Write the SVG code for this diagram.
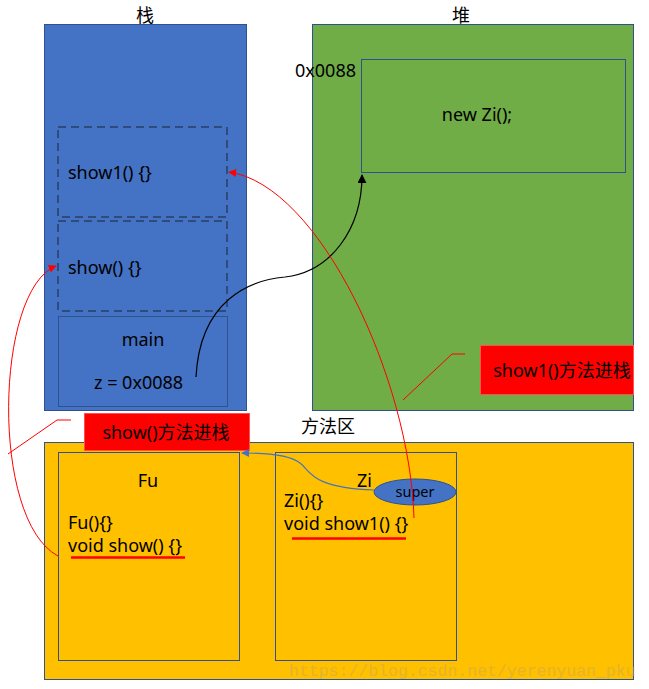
<svg xmlns="http://www.w3.org/2000/svg" width="649" height="689" viewBox="0 0 649 689">
<defs>
<style>
text{font-family:"Noto Sans","Noto Sans CJK SC",sans-serif;font-size:18px;fill:#000}
.box{stroke:#2F528F;stroke-width:1}
.dash{fill:none;stroke:#2F4B7C;stroke-width:2;stroke-dasharray:8,5}
.red{fill:none;stroke:#FF0000;stroke-width:1}
.lbl{fill:#FF0000;stroke:#FF5050;stroke-width:1}
.wm{font-family:"Liberation Mono",monospace;font-size:16.5px;fill:#C9A85A;opacity:0.5}
</style>
<marker id="ar" viewBox="0 0 10 10" refX="9" refY="5" markerWidth="8" markerHeight="8" markerUnits="userSpaceOnUse" orient="auto"><path d="M0,0L10,5L0,10z" fill="#FF0000"/></marker>
<marker id="ab" viewBox="0 0 10 10" refX="9" refY="5" markerWidth="9" markerHeight="9" markerUnits="userSpaceOnUse" orient="auto"><path d="M0,0L10,5L0,10z" fill="#000"/></marker>
<marker id="au" viewBox="0 0 10 10" refX="9" refY="5" markerWidth="8" markerHeight="8" markerUnits="userSpaceOnUse" orient="auto"><path d="M0,0L10,5L0,10z" fill="#4472C4"/></marker>
</defs>
<rect width="649" height="689" fill="#fff"/>

<g id="stack">
<text x="145" y="22" text-anchor="middle">栈</text>
<rect class="box" x="44.5" y="24.5" width="202" height="386" fill="#4472C4"/>
</g>
<g id="frame-show1">
<rect class="dash" x="58" y="127" width="169" height="90"/>
<text x="68" y="179">show1() {}</text>
</g>
<g id="frame-show">
<rect class="dash" x="58" y="221" width="169" height="90"/>
<text x="68" y="274">show() {}</text>
</g>
<g id="frame-main">
<rect class="box" x="58.5" y="316.5" width="169" height="90" fill="none"/>
<text x="143" y="346" text-anchor="middle">main</text>
<text x="94" y="389">z = 0x0088</text>
</g>

<g id="heap">
<text x="461" y="22" text-anchor="middle">堆</text>
<rect class="box" x="312.5" y="24.5" width="321" height="386" fill="#70AD47"/>
</g>
<g id="obj">
<text x="295" y="77">0x0088</text>
<rect class="box" x="361.5" y="59.5" width="264" height="113" fill="none"/>
<text x="477" y="121" text-anchor="middle">new Zi();</text>
</g>

<g id="method-area">
<text x="328" y="433" text-anchor="middle">方法区</text>
<rect class="box" x="44.5" y="442.5" width="589" height="237" fill="#FFC000"/>
</g>
<g id="fu">
<rect class="box" x="58.5" y="452.5" width="181" height="208" fill="none"/>
<text x="148" y="487" text-anchor="middle">Fu</text>
<text x="68" y="529">Fu(){}</text>
<text x="68" y="552">void show() {}</text>
<line x1="71" y1="557.5" x2="185" y2="557.5" stroke="#FF0000" stroke-width="2.5"/>
</g>
<g id="zi">
<rect class="box" x="275.5" y="452.5" width="181" height="208" fill="none"/>
<text x="357" y="487">Zi</text>
<text x="284" y="507">Zi(){}</text>
<text x="284" y="530">void show1() {}</text>
<line x1="292" y1="538.5" x2="406" y2="538.5" stroke="#FF0000" stroke-width="2.5"/>
</g>
<g id="super">
<ellipse cx="415" cy="492" rx="41" ry="13" fill="#4472C4" stroke="#2F528F"/>
<text x="415" y="497" text-anchor="middle" style="font-size:14.5px">super</text>
</g>

<g id="label-show1">
<rect class="lbl" x="480.5" y="345.5" width="153" height="49"/>
<text x="562" y="377" text-anchor="middle">show1()方法进栈</text>
</g>
<g id="label-show">
<rect class="lbl" x="84.5" y="413.5" width="165" height="37"/>
<text x="166" y="439" text-anchor="middle">show()方法进栈</text>
</g>

<g id="connectors">
<path d="M196,377 C200,300 250,280 285,277 C330,272 362,230 362,175" fill="none" stroke="#000" stroke-width="1.2" marker-end="url(#ab)"/>
<path class="red" d="M414,518 C410,380 320,185 229,172" marker-end="url(#ar)"/>
<path class="red" d="M58,556 C-10,520 -5,290 56,266" marker-end="url(#ar)"/>
<path class="red" d="M403,400 L452,354 L465,354"/>
<path class="red" d="M8,454 L57,420 L71,420"/>
<path d="M374,490 C310,488 310,470 300,463 C290,455 262,453 242,453" fill="none" stroke="#4472C4" stroke-width="1.2" marker-end="url(#au)"/>
</g>
<text class="wm" x="289" y="676">https://blog.csdn.net/yerenyuan_pku</text>
</svg>
